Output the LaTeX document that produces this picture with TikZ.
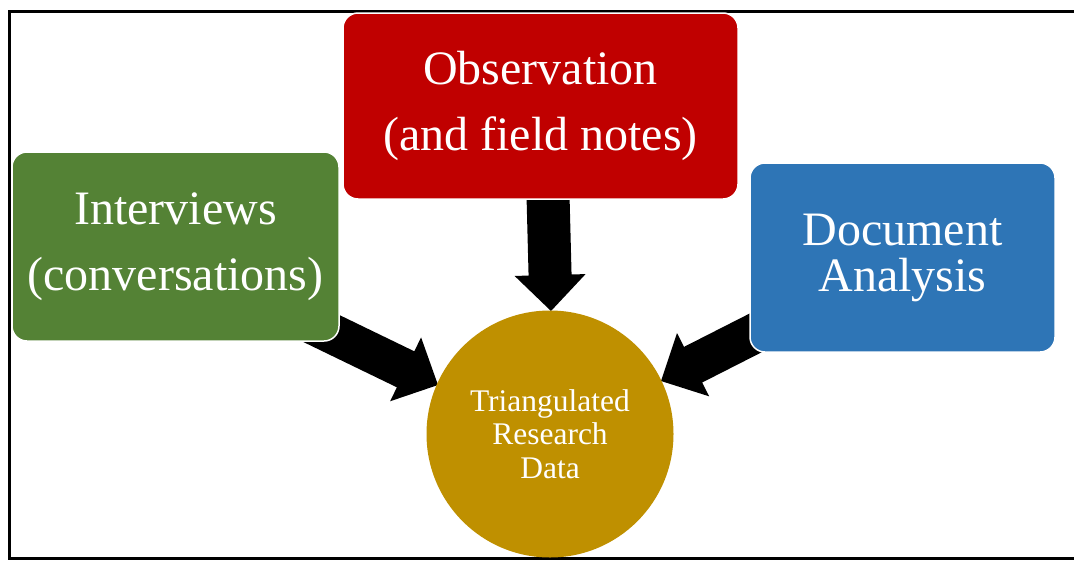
\documentclass[tikz,border=0pt]{standalone}
\usepackage{fontspec}
\setmainfont{Liberation Serif}
\usetikzlibrary{calc}

\definecolor{boxgreen}{HTML}{548235}
\definecolor{boxred}{HTML}{C00000}
\definecolor{boxblue}{HTML}{2E75B6}
\definecolor{hubgold}{HTML}{BF9000}

% Block arrow from a tail coordinate to a tip coordinate.
% #1 tail, #2 tip, #3 half width of the shaft
\newcommand{\blockarrow}[3]{%
  \coordinate (#1-head) at ($(#2)!36pt!(#1)$);
  \fill[arrowfill]
    ($(#1)!#3!90:(#2)$) -- ($(#1-head)!#3!90:(#2)$) --
    ($(#1-head)!35.5pt!90:(#2)$) -- (#2) --
    ($(#1-head)!35.5pt!-90:(#2)$) -- ($(#1-head)!#3!-90:(#2)$) --
    ($(#1)!#3!-90:(#2)$) -- cycle;}

\tikzset{
  method/.style={rectangle, rounded corners=15pt, draw=white, line width=1.5pt,
    text=white, align=center, inner sep=0pt, font=\fontsize{48}{66}\selectfont},
  hub/.style={circle, fill=hubgold, draw=none, minimum size=247pt, inner sep=0pt,
    text=white, align=center, font=\fontsize{31.5}{33.5}\selectfont},
  arrowfill/.style={fill=black},
  frame/.style={draw=black, line width=3.5pt}
}

\begin{document}
\begin{tikzpicture}[x=1pt, y=-1pt]
  \useasboundingbox (0,0) rectangle (1074,560);
  \clip (0,0) rectangle (1074,560);

  % outer frame, open towards the right
  \draw[frame] (1100,11.5) -- (9.3,11.5) -- (9.3,558.3) -- (1100,558.3);

  % arrow end points
  \coordinate (tailobs) at (548,195);
  \coordinate (tipobs)  at (551,311);
  \coordinate (tailint) at (293.5,315);
  \coordinate (tipint)  at (438,385);
  \coordinate (taildoc) at (799.5,310.6);
  \coordinate (tipdoc)  at (661,381);

  \blockarrow{tailobs}{tipobs}{21.5pt}
  \blockarrow{tailint}{tipint}{20pt}
  \blockarrow{taildoc}{tipdoc}{20pt}

  % data sources
  \node[method, fill=boxgreen, minimum width=327pt, minimum height=189pt]
    (interviews) at (175.5,246.5) {Interviews\\(conversations)};
  \node[method, fill=boxred, minimum width=395pt, minimum height=186pt]
    (observation) at (540.5,106) {Observation\\(and field notes)};
  \node[method, fill=boxblue, minimum width=305pt, minimum height=189pt,
        font=\fontsize{48}{46}\selectfont]
    (documents) at (902.5,257.5) {Document\\Analysis};

  % combined result
  \node[hub] (data) at (550,434) {Triangulated\\Research\\Data};
\end{tikzpicture}
\end{document}
